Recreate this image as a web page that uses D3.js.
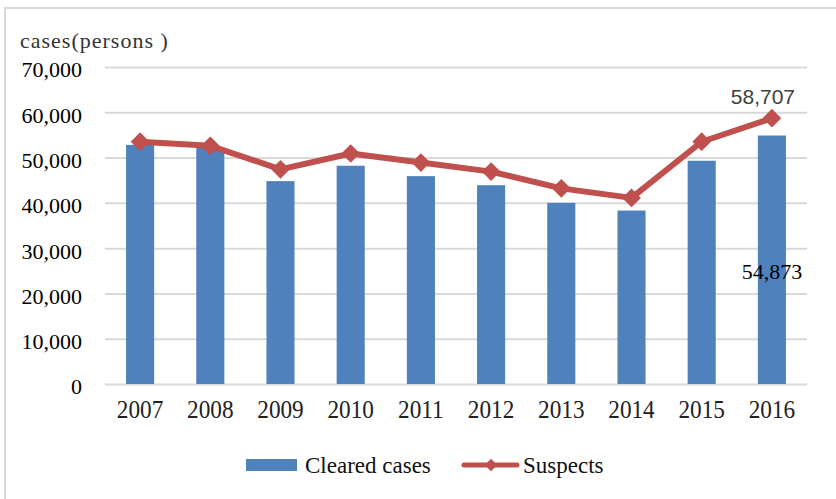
<!DOCTYPE html>
<html>
<head>
<meta charset="utf-8">
<script src="https://cdn.jsdelivr.net/npm/d3@7"></script>
<style>
  html, body { margin: 0; padding: 0; background: #fff; }
  svg { display: block; }
  .serif { font-family: "Liberation Serif", "DejaVu Serif", serif; }
  .sans { font-family: "Liberation Sans", Arial, sans-serif; }
</style>
</head>
<body>
<svg id="chart" width="836" height="499"></svg>
<script>
// Cleared cases and suspects, 2007–2016
const years = ["2007", "2008", "2009", "2010", "2011", "2012", "2013", "2014", "2015", "2016"];
const clearedCases = [52800, 52300, 44800, 48200, 45900, 43900, 40000, 38300, 49300, 54873];
const suspects = [53500, 52600, 47400, 50900, 48900, 46900, 43200, 41100, 53500, 58707];
const yTicks = [0, 10000, 20000, 30000, 40000, 50000, 60000, 70000];
const seriesNames = ["Cleared cases", "Suspects"];
const axisTitle = "cases(persons )";

const svg = d3.select("#chart");
const margin = { left: 105, right: 29 };
const W = 836;

const barColor = "#4f81bd";
const lineColor = "#c0504d";
const gridColor = "#d9d9d9";

// outer frame
svg.append("rect")
  .attr("x", 5).attr("y", 8)
  .attr("width", 900).attr("height", 600)
  .attr("fill", "none")
  .attr("stroke", gridColor)
  .attr("stroke-width", 2);

const x = d3.scaleBand()
  .domain(years)
  .range([margin.left, W - margin.right])
  .paddingInner(0.6)
  .paddingOuter(0.3);

const y = d3.scaleLinear()
  .domain([0, 70000])
  .range([384, 67]);

// gridlines + y labels
const yAxis = d3.axisLeft(y)
  .tickValues(yTicks)
  .tickFormat(d3.format(","))
  .tickSize(-(x.range()[1] - x.range()[0]))
  .tickPadding(23);

const gy = svg.append("g")
  .attr("transform", `translate(${margin.left},0)`)
  .call(yAxis)
  .attr("font-family", null)
  .attr("font-size", null);
gy.select(".domain").remove();
gy.selectAll(".tick line")
  .attr("stroke", gridColor)
  .attr("stroke-width", 2);
gy.selectAll(".tick text")
  .attr("class", "serif")
  .style("font-size", "22px")
  .attr("fill", "#000")
  .attr("dy", "0.45em");

// axis title
svg.append("text")
  .attr("class", "serif")
  .attr("x", 20).attr("y", 48)
  .style("font-size", "22px")
  .style("letter-spacing", "1px")
  .attr("fill", "#333")
  .text(axisTitle);

// bars
svg.append("g")
  .selectAll("rect")
  .data(clearedCases)
  .join("rect")
  .attr("x", (d, i) => x(years[i]))
  .attr("y", d => y(d))
  .attr("width", x.bandwidth())
  .attr("height", d => y(0) - y(d))
  .attr("fill", barColor);

// x labels (slightly narrowed serif digits)
const xc = d => x(d) + x.bandwidth() / 2;
svg.append("g")
  .selectAll("text")
  .data(years)
  .join("text")
  .attr("class", "serif")
  .attr("transform", d => `translate(${xc(d)},418) scale(0.93,1)`)
  .attr("text-anchor", "middle")
  .style("font-size", "25px")
  .attr("fill", "#222")
  .text(d => d);

// suspects line
const line = d3.line()
  .x((d, i) => xc(years[i]))
  .y(d => y(d));

svg.append("path")
  .datum(suspects)
  .attr("d", line)
  .attr("fill", "none")
  .attr("stroke", lineColor)
  .attr("stroke-width", 6)
  .attr("stroke-linejoin", "round");

svg.append("g")
  .selectAll("path")
  .data(suspects)
  .join("path")
  .attr("transform", (d, i) => `translate(${xc(years[i])},${y(d)}) rotate(45)`)
  .attr("d", d3.symbol().type(d3.symbolSquare).size(175))
  .attr("fill", lineColor);

// value labels
const last = years.length - 1;
svg.append("text")
  .attr("class", "sans")
  .attr("x", xc(years[last]) - 9)
  .attr("y", y(suspects[last]) - 14)
  .attr("text-anchor", "middle")
  .style("font-size", "21px")
  .attr("fill", "#404040")
  .text(d3.format(",")(suspects[last]));

svg.append("text")
  .attr("class", "serif")
  .attr("x", xc(years[last]))
  .attr("y", 279)
  .attr("text-anchor", "middle")
  .style("font-size", "22px")
  .attr("fill", "#000")
  .text(d3.format(",")(clearedCases[last]));

// legend
const lg = svg.append("g");
lg.append("rect")
  .attr("x", 246).attr("y", 459)
  .attr("width", 51).attr("height", 12)
  .attr("fill", barColor);
lg.append("text")
  .attr("class", "serif")
  .attr("x", 305).attr("y", 473)
  .style("font-size", "23px")
  .attr("fill", "#111")
  .text(seriesNames[0]);
lg.append("line")
  .attr("x1", 464).attr("x2", 517)
  .attr("y1", 465).attr("y2", 465)
  .attr("stroke", lineColor)
  .attr("stroke-width", 5)
  .attr("stroke-linecap", "round");
lg.append("path")
  .attr("transform", "translate(491,465) rotate(45)")
  .attr("d", d3.symbol().type(d3.symbolSquare).size(80))
  .attr("fill", lineColor);
lg.append("text")
  .attr("class", "serif")
  .attr("x", 523).attr("y", 473)
  .style("font-size", "23px")
  .attr("fill", "#111")
  .text(seriesNames[1]);
</script>
</body>
</html>
